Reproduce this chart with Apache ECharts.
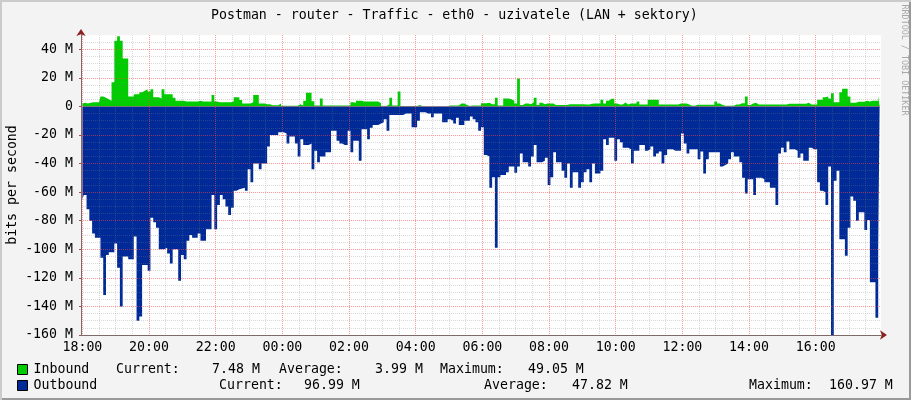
<!DOCTYPE html>
<html><head><meta charset="utf-8">
<style>
html,body{margin:0;padding:0;}
body{width:911px;height:400px;background:#f3f3f3;box-shadow:inset 2px 2px 0 #cbcbcb,inset -2px -2px 0 #999;position:relative;overflow:hidden;}
#c{position:absolute;left:0;top:0;width:911px;height:400px;}
</style>
<script src="https://cdn.jsdelivr.net/npm/echarts@6/dist/echarts.min.js"></script>
</head><body><div id="c"></div>
<script>
const inboundM = [
2,2.5,2,2.5,3,3,3,7,6,5,
4,17,46,49.05,46,33.5,33.5,7,7,8.5,
8.5,10,11,12,10.5,12,6.5,6.5,5.5,12,
8.5,8.5,8.5,6,4,4,4,3.5,3.5,3.5,
3.5,3.5,4,3.5,3.5,3.5,3.5,8,3.5,3,
3,3,3,3,3.5,6.5,6.5,4.5,2,2,
2,3,8,8,2,2,1.5,1.5,.8,.8,
.8,2,.5,.5,.5,.5,.5,.5,1.5,.7,
4,9.5,9.5,3.7,.7,.7,5.5,.7,.7,.7,
.7,.7,.7,.7,.7,.7,.7,3,2.5,4,
4,3.5,3.5,3.5,3.5,3.5,3.5,2.3,.3,.3,
1.4,6,.7,.7,10.5,.3,.3,.3,.3,.3,
.3,1,.2,.2,.2,.2,.2,.2,.2,.2,
.2,.2,.7,.7,.7,.7,2,2,1,.3,
.7,.7,.7,.7,2.3,2.3,2.5,1.6,1.6,6,
.7,.7,5.6,5.6,5,4,2,19.6,1,2,
2,1.6,3,6,1,2.5,1.5,2,2,2,
1,1,1,1,1,1.6,1.6,1.6,1.6,1.6,
1.6,1.4,1.4,1.9,2,2,2,4.7,2,4,
5.4,5.4,2,1.4,1.4,2.8,1.4,2,2,2,
3.5,1.4,1.4,1.4,4.7,4.7,4.7,4.7,1.4,1.4,
1.4,1.4,1.4,1.4,1.4,2,2,2,1.4,.5,
.5,1.2,1.2,1.2,1.2,1.2,1.2,1.2,3.5,2,
1,.5,.5,.5,.5,1.4,1.4,2.3,2.3,7,
1,2,2.5,1.4,1.4,1.4,1.4,1.4,1.4,1.4,
1.4,1.4,1.4,1.4,1.9,1.9,1.9,1.9,1.9,1.9,
1.9,2.5,1.4,1.4,1.4,4.7,4.7,6.5,7,5.5,
9.3,3,3,10,12.4,12.4,7,2.6,2.6,3.3,
3.3,3.3,4,3.5,4,4,4,7.48];
const outboundM = [
65,62,72,80,89,92,92,106,132,104,
102,102,96,113,140,105,105,107,107,91,
150,147,111,111,115,78,81,85,100,100,
99,103,110,100,100,122,104,107,94,90,
92,92,89,94,94,86,86,62,86,69,
62,65,70,76,71,59,58,57.5,57,59,
44,53,40,40,44,40,40,28,20,20,
20,18,18,19,26,21,21,26,35,23,
27,27,26,44,31,39,35,35,32,32,
17,17,24,26,27,27,17,32,24,24,
38,16,16,23,15,13,13,12,11,9,
17,6,6,6,6,6,5,5,5,14.5,
14.5,10,4,4,5,5,7.5,5,5,5,
11,11,9,10,12,8,13,13,10,10,
7,9,11,17,14.5,34,35,57,49.5,99,
49.5,48,48,46,42,42,46.5,42,33,39,
39,42,35,27,39,39,38,36,55,49.5,
32,39,39,45,50,40,57,46,46,57,
53,46,44,53,40,47,47,45,23,27,
22,22,38,23,25,29,29,30,40,31,
31,27,27,31,30,28,35,33,31.5,40,
34,30,30,31,31,31,19,26,33,30,
30,30,37,31.5,47,37,32,32,32,32,
42,41,40,37,32,35,35,39,50,61,
51,51,62,50,50,51,53,53,57,57,
69,33,29,32,24.5,30,30,31,36,33,
38,38,29,30,30,53,59,60,69,42,
160.97,52,45,93,93,104.5,85,63,66,80,
74,74,86.5,79.5,123,123,148,96.99];
const categories = [];
for (let i = 0; i < inboundM.length; i++) {
  const m = (18 * 60 + i * 5) % 1440;
  categories.push(String(Math.floor(m / 60)).padStart(2, '0') + ':' + String(m % 60).padStart(2, '0'));
}
const titleText = 'Postman - router - Traffic - eth0 - uzivatele (LAN + sektory)';
const yName = 'bits per second';
const credit = 'RRDTOOL / TOBI OETIKER';
const legendRow1 = [['Current:',116],['7.48 M',212],['Average:',279],['3.99 M',375],['Maximum:',440],['49.05 M',528]];
const legendRow2 = [['Current:',219],['96.99 M',304],['Average:',484],['47.82 M',572],['Maximum:',749],['160.97 M',829]];

const MONO = '"DejaVu Sans Mono", monospace';
const FS = 13.25;
const RED = 'rgba(255,70,70,0.55)', GRAY = 'rgba(128,128,128,0.3)';
const mk = (row, y) => row.map(([t, x]) => ({type:'text', x, y, style:{text:t, font:`${FS}px ${MONO}`, fill:'#000', verticalAlign:'middle'}}));

const chart = echarts.init(document.getElementById('c'), null, {renderer:'canvas', width:911, height:400});
chart.setOption({
  animation:false,
  backgroundColor:'transparent',
  textStyle:{fontFamily:MONO},
  title:{text:titleText, left:206, top:4, textStyle:{fontFamily:MONO, fontSize:FS, fontWeight:'normal', color:'#000'}},
  grid:{left:81, top:35, width:800, height:300, show:true, backgroundColor:'#fff', borderWidth:0, containLabel:false, outerBoundsMode:'none'},
  legend:{orient:'vertical', left:17, top:363, itemWidth:10, itemHeight:10, itemGap:3, icon:'rect', padding:0, selectedMode:false,
    textStyle:{fontFamily:MONO, fontSize:FS, color:'#000', padding:[0,0,0,1], lineHeight:10},
    itemStyle:{borderColor:'#000', borderWidth:1}, data:['Inbound','Outbound']},
  xAxis:[
    {type:'category', data:categories, boundaryGap:true, z:5,
     axisLine:{show:true, onZero:false, lineStyle:{color:'#7f6a6a', width:1}},
     axisTick:{show:false},
     axisLabel:{interval:(i)=>i%24===0, margin:6, fontFamily:MONO, fontSize:FS, color:'#000', hideOverlap:false},
     splitLine:{show:true, alignWithLabel:true, interval:(i)=>i%24===0, lineStyle:{color:RED, type:[1,1], width:1}}},
    {type:'category', data:categories, boundaryGap:true, position:'bottom', z:4,
     axisLine:{show:true, onZero:false, symbol:['none','arrow'], symbolSize:[7,7], symbolOffset:[0,6], lineStyle:{color:'#8b2020', width:1}},
     axisTick:{show:false}, axisLabel:{show:false},
     splitLine:{show:true, alignWithLabel:true, interval:(i)=>i%6===0 && i%24!==0, lineStyle:{color:GRAY, type:[1,1], width:1}}}
  ],
  yAxis:[
    {type:'value', min:-160, max:50, interval:20, z:5,
     name:yName, nameLocation:'middle', nameGap:62, nameMoveOverlap:false, nameTextStyle:{fontFamily:MONO, fontSize:FS, color:'#000'},
     axisLine:{show:true, onZero:false, lineStyle:{color:'#7f6a6a', width:1}},
     axisTick:{show:true, length:2, inside:false, lineStyle:{color:'#a05050'}},
     axisLabel:{margin:8, padding:[4,0,0,0], fontFamily:MONO, fontSize:FS, color:'#000', showMaxLabel:false, formatter:(v)=> v===0?'0':(v+' M')},
     splitLine:{show:true, showMaxLine:false, lineStyle:{color:RED, type:[1,1], width:1}},
     minorTick:{show:false, splitNumber:4},
     minorSplitLine:{show:true, lineStyle:{color:GRAY, type:[1,1], width:1}}},
    {type:'value', min:-160, max:50, interval:20, z:4,
     axisLine:{show:true, onZero:false, symbol:['none','arrow'], symbolSize:[7,7], symbolOffset:[0,6], lineStyle:{color:'#8b2020', width:1}},
     position:'left', axisTick:{show:false}, axisLabel:{show:false}, splitLine:{show:false}}
  ],
  series:[
    {name:'Inbound', type:'line', step:'middle', data:inboundM, showSymbol:false, z:2, xAxisIndex:0, yAxisIndex:0,
     itemStyle:{color:'#00CC00'}, lineStyle:{width:0}, areaStyle:{color:'#00CC00', opacity:1}},
    {name:'Outbound', type:'line', step:'middle', data:outboundM.map(v=>-v), showSymbol:false, z:2, xAxisIndex:0, yAxisIndex:0,
     itemStyle:{color:'#002A97'}, lineStyle:{width:0}, areaStyle:{color:'#002A97', opacity:1}}
  ],
  graphic:[
    {type:'text', x:904, y:60, rotation:-Math.PI/2, style:{text:credit, font:`8.4px ${MONO}`, fill:'#a8a8a8', align:'center', verticalAlign:'middle'}},
    ...mk(legendRow1, 370), ...mk(legendRow2, 386)
  ]
});
</script></body></html>
